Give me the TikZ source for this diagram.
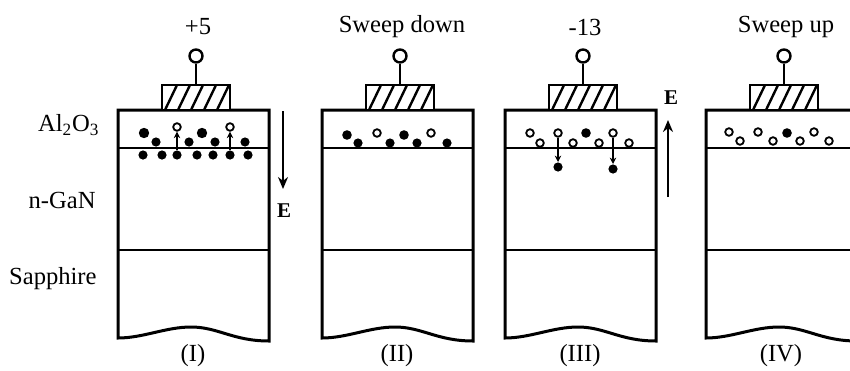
\documentclass[tikz,border=0pt]{standalone}
\usepackage{fontspec}
\setmainfont{Liberation Serif}
\usetikzlibrary{arrows.meta}

\tikzset{
  layer/.style={line width=1.5pt, line join=miter},
  iface/.style={line width=1.1pt},
  gate/.style={draw, fill=white, line width=1.3pt, minimum width=34pt, minimum height=12.5pt, inner sep=0pt},
  hatch/.style={line width=1.2pt},
  pad/.style={draw, circle, fill=white, line width=1.2pt, minimum size=6.5pt, inner sep=0pt},
  elec/.style={circle, fill=black, minimum size=4.6pt, inner sep=0pt},
  hole/.style={circle, draw, fill=white, line width=0.9pt, minimum size=3.8pt, inner sep=0pt},
  holeline/.style={draw, fill=white, line width=0.9pt},
  field/.style={line width=1.1pt, -{Stealth[length=6pt, width=5pt]}},
  hop/.style={line width=0.7pt, -{Stealth[length=3.2pt, width=3.2pt]}},
  lbl/.style={font=\fontsize{12.3}{14}\selectfont, inner sep=0pt},
}

\begin{document}
\begin{tikzpicture}[x=0.5pt, y=-0.5pt]
  \useasboundingbox (0,0) rectangle (850,370);
  \clip (0,0) rectangle (850,370);

  % four device cross-sections
  \foreach \xo/\volt/\name [count=\i] in {118/{+5}/I, 322/{Sweep down}/II, 505/{-13}/III, 706/{Sweep up}/IV} {
    \draw[layer] (\xo,338) -- (\xo,110) -- (\xo+151,110) -- (\xo+151,341)
      .. controls (\xo+115,341) and (\xo+100,327) .. (\xo+73,327)
      .. controls (\xo+48,327) and (\xo+25,338) .. cycle;
    \draw[iface] (\xo,148) -- (\xo+151,148);
    \draw[iface] (\xo,250) -- (\xo+151,250);
    \node[gate] (gate\i) at (\xo+78,97.5) {};
    \begin{scope}
      \clip (gate\i.south west) rectangle (gate\i.north east);
      \foreach \h in {3,16,29,42,55}
        \draw[hatch] (\xo+44+\h,110) -- (\xo+56+\h,85);
    \end{scope}
    \node[pad] (pad\i) at (\xo+78,56) {};
    \draw[line width=1.1pt] (gate\i.north) -- (pad\i.south);
    \node[lbl] (volt\i) at (\xo+80,27) {\volt};
    \node[lbl] (case\i) at (\xo+75,356) {(\name)};
  }

  % layer names
  \node[lbl, anchor=east] (oxide) at (100,125) {Al\textsubscript{2}O\textsubscript{3}};
  \node[lbl, anchor=east] (gan) at (96,200) {n-GaN};
  \node[lbl, anchor=east] (sapph) at (97,279) {Sapphire};

  % (I) charges
  \foreach \x in {144,202} \fill (\x,133) circle (2.6pt);
  \foreach \x in {156,189,215,245} \fill (\x,142) circle (2.3pt);
  \foreach \x in {143,162,197,213,248} \fill (\x,155) circle (2.3pt);
  \node[elec] (eA) at (177,155) {};
  \node[hole] (hA) at (177,127) {};
  \node[elec] (eB) at (230,155) {};
  \node[hole] (hB) at (230,127) {};
  \draw[hop] (eA) -- (hA);
  \draw[hop] (eB) -- (hB);

  % (II) charges
  \foreach \x in {347,404} \fill (\x,135) circle (2.4pt);
  \foreach \x in {377,431} \draw[holeline] (\x,133) circle (1.9pt);
  \foreach \x in {358,390,417,447} \fill (\x,143) circle (2.3pt);

  % (III) charges
  \draw[holeline] (530,133) circle (1.9pt);
  \fill (586,133) circle (2.4pt);
  \foreach \x in {540,573,599,629} \draw[holeline] (\x,143) circle (1.9pt);
  \node[hole] (hC) at (558,133) {};
  \node[hole] (hD) at (613,133) {};
  \node[elec] (eC) at (558,167) {};
  \node[elec] (eD) at (613,169) {};
  \draw[hop] (hC) -- (eC);
  \draw[hop] (hD) -- (eD);

  % (IV) charges
  \foreach \x in {729,758,814} \draw[holeline] (\x,132) circle (1.9pt);
  \fill (787,133) circle (2.4pt);
  \foreach \x in {740,773,800,829} \draw[holeline] (\x,141) circle (1.9pt);

  % field arrows
  \coordinate (fIa) at (283,111);
  \coordinate (fIb) at (283,189);
  \draw[field] (fIa) -- (fIb);
  \node[font=\bfseries\fontsize{10.5}{12}\selectfont] (eI) at (284,211) {E};
  \coordinate (fIIIa) at (668,197);
  \coordinate (fIIIb) at (668,120);
  \draw[field] (fIIIa) -- (fIIIb);
  \node[font=\bfseries\fontsize{10.5}{12}\selectfont] (eIII) at (671,98) {E};
\end{tikzpicture}
\end{document}
